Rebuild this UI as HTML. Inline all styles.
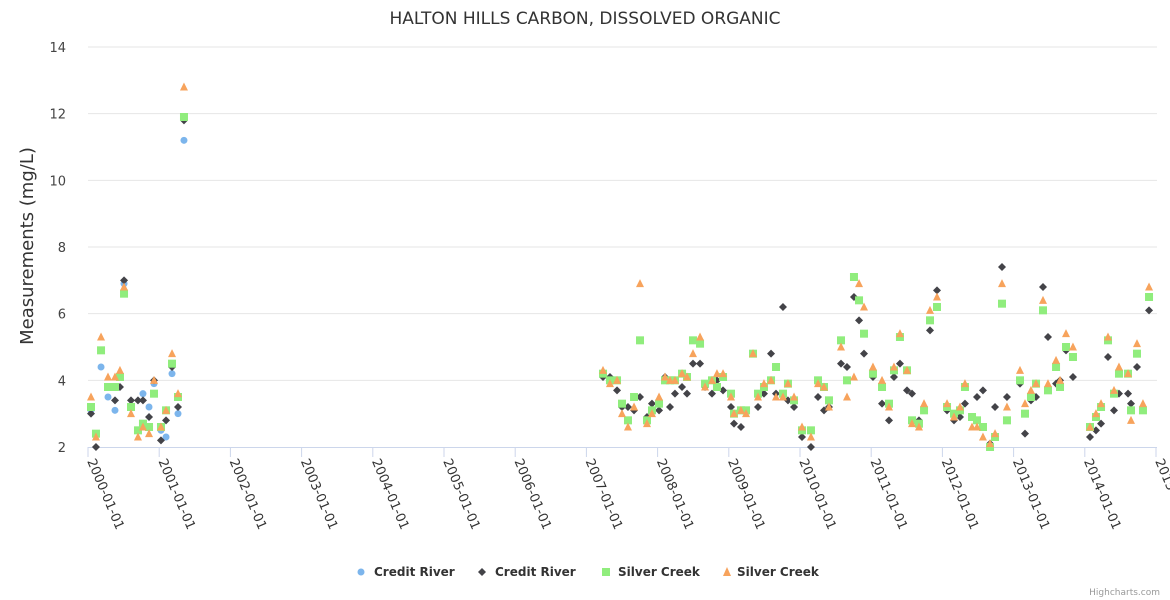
<!DOCTYPE html>
<html><head><meta charset="utf-8"><style>
html,body{margin:0;padding:0;background:#fff;}
svg{display:block;font-family:"DejaVu Sans","Liberation Sans",sans-serif;}
</style></head><body>
<svg id="chart" width="1170" height="600" xmlns="http://www.w3.org/2000/svg">
<text x="585" y="24" text-anchor="middle" font-size="17" fill="#333">HALTON HILLS CARBON, DISSOLVED ORGANIC</text>
<text transform="translate(33,246) rotate(-90)" text-anchor="middle" font-size="18" fill="#333">Measurements (mg/L)</text>
<g id="grid"></g>
<g id="xaxis"></g>
<g id="yaxis"></g>
<g id="marks"></g>
<g font-size="12" font-weight="bold" fill="#333">
 <g><circle cx="361" cy="572" r="3.5" fill="#7cb5ec"/><text x="374" y="576">Credit River</text></g>
 <g><path d="M482 568 L486 572 L482 576 L478 572Z" fill="#434348"/><text x="495" y="576">Credit River</text></g>
 <g><rect x="602" y="568" width="8" height="8" fill="#90ed7d"/><text x="618" y="576">Silver Creek</text></g>
 <g><path d="M727 567 L731 576 L723 576Z" fill="#f7a35c"/><text x="737" y="576">Silver Creek</text></g>
</g>
<text x="1160" y="595" text-anchor="end" font-size="9" fill="#999">Highcharts.com</text>
</svg>
<script>
// years since 2000-01-01
const dates = [0.042,0.112,0.183,0.281,0.379,0.449,0.506,0.604,0.702,0.772,0.857,0.927,1.025,1.096,1.180,1.264,1.348,
7.233,7.331,7.430,7.500,7.584,7.669,7.753,7.851,7.921,8.020,8.104,8.174,8.244,8.343,8.413,8.497,8.596,8.666,8.764,8.834,8.919,9.031,9.073,9.171,9.242,9.340,9.410,9.494,9.593,9.663,
9.761,9.831,9.916,10.028,10.154,10.253,10.337,10.407,10.576,10.660,10.758,10.829,10.899,11.025,11.152,11.250,11.320,11.404,11.503,11.573,11.671,11.742,11.826,11.924,12.065,12.163,12.247,12.317,
12.416,12.486,12.570,12.669,12.739,12.837,12.907,13.090,13.160,13.244,13.315,13.413,13.483,13.596,13.652,13.736,13.834,14.073,14.157,14.228,14.326,14.410,14.480,14.607,14.649,14.733,14.817,14.902];
const creditBlue = [3.1,null,4.4,3.5,3.1,null,6.9,null,null,3.6,3.2,3.9,2.5,2.3,4.2,3.0,11.2];
const creditDark = [3.0,2.0,null,null,3.4,3.8,7.0,3.4,3.4,3.4,2.9,4.0,2.2,2.8,4.4,3.2,11.8,
4.1,4.1,3.7,3.2,3.2,3.1,3.5,2.9,3.3,3.1,4.1,3.2,3.6,3.8,3.6,4.5,4.5,3.8,3.6,4.0,3.7,3.2,2.7,2.6,null,null,3.2,3.6,4.8,3.6,
6.2,3.4,3.2,2.3,2.0,3.5,3.1,3.2,4.5,4.4,6.5,5.8,4.8,4.1,3.3,2.8,4.1,4.5,3.7,3.6,2.8,null,5.5,6.7,3.1,2.8,2.9,3.3,
null,3.5,3.7,2.1,3.2,7.4,3.5,3.9,2.4,3.4,3.5,6.8,5.3,3.9,4.0,4.9,4.1,2.3,2.5,2.7,4.7,3.1,3.6,3.6,3.3,4.4,null,6.1];
const silverGreen = [3.2,2.4,4.9,3.8,3.8,4.1,6.6,3.2,2.5,2.7,2.6,3.6,2.6,3.1,4.5,3.5,11.9,
4.2,4.0,4.0,3.3,2.8,3.5,5.2,2.8,3.1,3.3,4.0,4.0,4.0,4.2,4.1,5.2,5.1,3.9,4.0,3.8,4.1,3.6,3.0,3.1,3.1,4.8,3.6,3.8,4.0,4.4,
3.6,3.9,3.4,2.5,2.5,4.0,3.8,3.4,5.2,4.0,7.1,6.4,5.4,4.2,3.8,3.3,4.3,5.3,4.3,2.8,2.7,3.1,5.8,6.2,3.2,3.0,3.1,3.8,
2.9,2.8,2.6,2.0,2.3,6.3,2.8,4.0,3.0,3.5,3.9,6.1,3.7,4.4,3.8,5.0,4.7,2.6,2.9,3.2,5.2,3.6,4.2,4.2,3.1,4.8,3.1,6.5];
const silverOrange = [3.5,2.3,5.3,4.1,4.1,4.3,6.8,3.0,2.3,2.6,2.4,4.0,2.6,3.1,4.8,3.6,12.8,
4.3,3.9,4.0,3.0,2.6,3.2,6.9,2.7,3.0,3.5,4.1,4.0,4.0,4.2,4.1,4.8,5.3,3.8,4.0,4.2,4.2,3.5,3.0,3.1,3.0,4.8,3.5,3.9,4.0,3.5,
3.5,3.9,3.5,2.6,2.3,3.9,3.8,3.2,5.0,3.5,4.1,6.9,6.2,4.4,4.0,3.2,4.4,5.4,4.3,2.7,2.6,3.3,6.1,6.5,3.3,2.9,3.2,3.9,
2.6,2.6,2.3,2.1,2.4,6.9,3.2,4.3,3.3,3.7,3.9,6.4,3.9,4.6,4.0,5.4,5.0,2.6,3.0,3.3,5.3,3.7,4.4,4.2,2.8,5.1,3.3,6.8];
const yTicks = [2,4,6,8,10,12,14];
const xTickLabels = ["2000-01-01","2001-01-01","2002-01-01","2003-01-01","2004-01-01","2005-01-01","2006-01-01","2007-01-01","2008-01-01","2009-01-01","2010-01-01","2011-01-01","2012-01-01","2013-01-01","2014-01-01","2015-01-01"];

const NS="http://www.w3.org/2000/svg";
const X0=88, PXY=71.2, YB=447, PXU=33.333;
const xs=t=>X0+t*PXY, ys=v=>YB-(v-2)*PXU;
function mk(tag,attrs,parent){const e=document.createElementNS(NS,tag);for(const k in attrs)e.setAttribute(k,attrs[k]);parent.appendChild(e);return e;}
const grid=document.getElementById('grid'),xa=document.getElementById('xaxis'),ya=document.getElementById('yaxis'),marks=document.getElementById('marks');
yTicks.forEach(v=>{
  const l=mk('line',{x1:X0,x2:1157,y1:ys(v),y2:ys(v),stroke:v===2?'none':'#e6e6e6'},grid);
  
  
  const t=mk('text',{x:66,y:ys(v)+5,'text-anchor':'end','font-size':13,fill:'#444'},ya);
  t.textContent=v;
  
  
});
const ax=mk('line',{x1:X0,x2:1157,y1:YB+0.5,y2:YB+0.5,stroke:'#ccd6eb'},xa);


xTickLabels.forEach((s,i)=>{
  const x=xs(i);
  const tk=mk('line',{x1:x,x2:x,y1:YB,y2:YB+10,stroke:'#ccd6eb'},xa);
  
  
  const t=mk('text',{transform:`translate(${x-1},${YB+14}) rotate(67)`,'font-size':13,fill:'#333'},xa);
  t.textContent=s;
  
  
});
function draw(vals,kind,color,name){
  vals.forEach((v,i)=>{
    if(v===null||v===undefined)return;
    const x=xs(dates[i]),y=ys(v);let e;
    if(kind==='circle')e=mk('circle',{cx:x,cy:y,r:3.5,fill:color},marks);
    else if(kind==='diamond')e=mk('path',{d:`M${x} ${y-4}L${x+4} ${y}L${x} ${y+4}L${x-4} ${y}Z`,fill:color},marks);
    else if(kind==='square')e=mk('rect',{x:x-4,y:y-4,width:8,height:8,fill:color},marks);
    else e=mk('path',{d:`M${x} ${y-4.5}L${x+4} ${y+3.5}L${x-4} ${y+3.5}Z`,fill:color},marks);
    
    
  });
}
draw(creditBlue,'circle','#7cb5ec','credit-river-point');
draw(creditDark,'diamond','#434348','credit-river-2-point');
draw(silverGreen,'square','#90ed7d','silver-creek-point');
draw(silverOrange,'triangle','#f7a35c','silver-creek-2-point');
</script>
</body></html>
